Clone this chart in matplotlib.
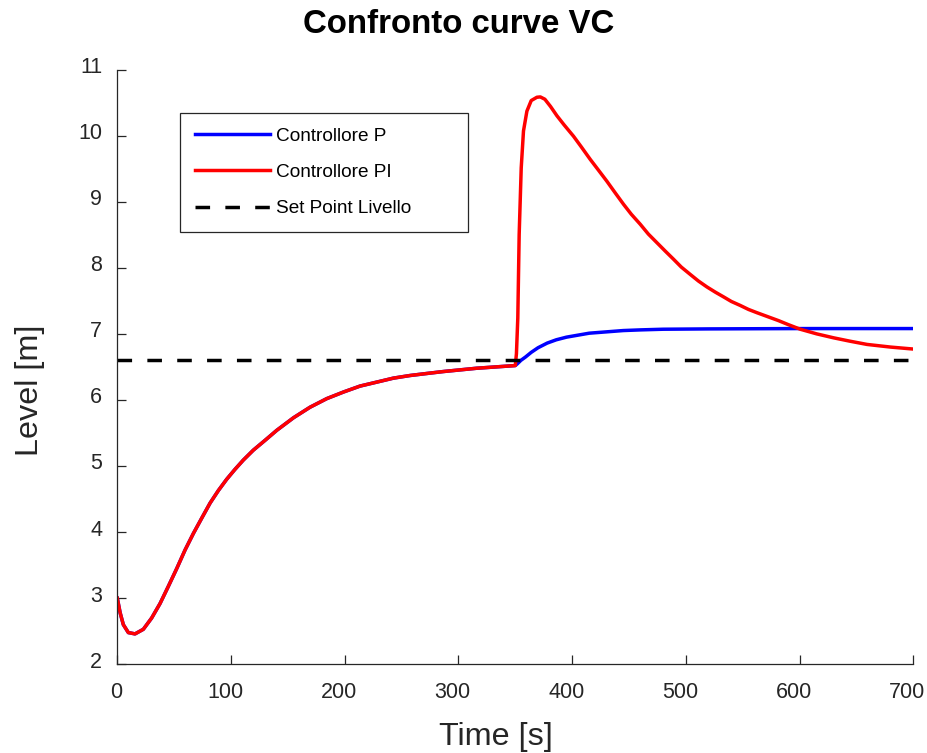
import matplotlib
matplotlib.use('Agg')
import matplotlib.pyplot as plt
from matplotlib.transforms import ScaledTranslation

# common transient (both controllers identical up to t = 350 s)
t_common = [0, 2.5, 5.3, 9.7, 15.6, 22.9, 30.2, 37.6, 44.9, 52.3, 59.6, 66.9,
            74.2, 81.6, 88.9, 96.2, 103.5, 110.8, 119.6, 130, 140.2, 154.9,
            169.5, 184.2, 198.9, 213.5, 228.2, 242.8, 257.5, 272, 286.8,
            301.5, 316.2, 333, 350]
y_common = [3.0, 2.78, 2.60, 2.48, 2.46, 2.53, 2.70, 2.92, 3.18, 3.45, 3.73,
            3.98, 4.21, 4.44, 4.63, 4.80, 4.95, 5.09, 5.24, 5.39, 5.54, 5.73,
            5.89, 6.02, 6.12, 6.21, 6.27, 6.33, 6.37, 6.40, 6.43, 6.455,
            6.48, 6.50, 6.52]

# after the disturbance at t = 350 s
t_p = [352, 355, 359, 364, 370, 378, 386, 395, 405, 415, 430, 445, 460, 480,
       520, 600, 700]
y_p = [6.55, 6.60, 6.65, 6.72, 6.79, 6.86, 6.91, 6.95, 6.98, 7.01, 7.03,
       7.05, 7.06, 7.07, 7.075, 7.08, 7.08]

t_pi = [351, 352.2, 353.4, 355.2, 357.2, 360.2, 364, 369, 372, 376, 381,
        386.6, 393, 401.2, 408, 415.9, 423, 430.5, 438, 445.2, 452, 459.8,
        467, 474.5, 482, 489.1, 496, 503.8, 511, 518.5, 526, 533.1, 540,
        547.8, 555, 562.5, 572, 581.5, 590, 600.6, 615, 629.9, 644, 659.3,
        680, 700]
y_pi = [6.70, 7.24, 8.50, 9.51, 10.07, 10.37, 10.53, 10.58, 10.585, 10.55,
        10.44, 10.30, 10.16, 9.99, 9.83, 9.64, 9.48, 9.31, 9.13, 8.96, 8.81,
        8.66, 8.51, 8.38, 8.25, 8.13, 8.01, 7.90, 7.80, 7.71, 7.63, 7.56,
        7.49, 7.43, 7.37, 7.32, 7.26, 7.20, 7.14, 7.07, 7.00, 6.94, 6.89,
        6.84, 6.80, 6.77]

setpoint = 6.6
x_ticks = [0, 100, 200, 300, 400, 500, 600, 700]
y_ticks = [2, 3, 4, 5, 6, 7, 8, 9, 10, 11]

plt.rcParams['font.family'] = ['Liberation Sans', 'DejaVu Sans']

W, H = 927, 753
fig = plt.figure(figsize=(W / 100, H / 100), dpi=100)
ax = fig.add_axes([117.3 / W, 1 - 664.3 / H, 796 / W, 594.8 / H])

ax.plot(t_common + t_p, y_common + y_p, color='#0000ff', lw=2.5,
        label='Controllore P')
ax.plot(t_common + t_pi, y_common + y_pi, color='#ff0000', lw=2.5,
        label='Controllore PI')
ax.plot([x_ticks[0], x_ticks[-1]], [setpoint, setpoint], color='black',
        lw=2.5, dashes=(4.2, 4.4), label='Set Point Livello')

ax.set_xlim(0, 700)
ax.set_ylim(2, 11)
ax.set_xticks(x_ticks)
ax.set_yticks(y_ticks)
for s in ['top', 'right']:
    ax.spines[s].set_visible(False)
for s in ['left', 'bottom']:
    ax.spines[s].set_color('#262626')
    ax.spines[s].set_linewidth(0.9)
ax.tick_params(direction='in', length=6.5, width=0.9, color='#262626',
               labelsize=15.5, labelcolor='#262626')
ax.tick_params(axis='y', pad=11)
ax.tick_params(axis='x', pad=12.5)

# the reference tick labels sit a little up / left of their ticks
for lab in ax.get_yticklabels():
    lab.set_transform(lab.get_transform() +
                      ScaledTranslation(0, 0.046, fig.dpi_scale_trans))
for lab, v in zip(ax.get_xticklabels(), x_ticks):
    dx = -0.015 if v == 0 else -0.06
    lab.set_transform(lab.get_transform() +
                      ScaledTranslation(dx, 0, fig.dpi_scale_trans))

ax.set_xlabel('Time [s]', fontsize=23.3, color='#262626')
ax.xaxis.set_label_coords(0.475, -0.097)
ax.set_ylabel('Level [m]', fontsize=23.3, color='#262626')
ax.yaxis.set_label_coords(-0.091, 0.46)

fig.text(459 / W, 1 - 32.7 / H, 'Confronto curve VC', fontsize=23.8,
         fontweight='bold', ha='center', va='baseline')

bx0, by0, bx1, by1 = 180, 113.3, 468.3, 231.7
leg = ax.legend(loc='upper left', mode='expand',
                bbox_to_anchor=(bx0 / W, 1 - by0 / H, (bx1 - bx0) / W, 0.001),
                bbox_transform=fig.transFigure, fontsize=13.7,
                handlelength=3.95, handletextpad=0.3, labelspacing=1.0,
                borderpad=0.78, borderaxespad=0, fancybox=False,
                framealpha=1, edgecolor='#262626')
leg.get_frame().set_linewidth(0.9)

fig.savefig('out.png', dpi=100)
